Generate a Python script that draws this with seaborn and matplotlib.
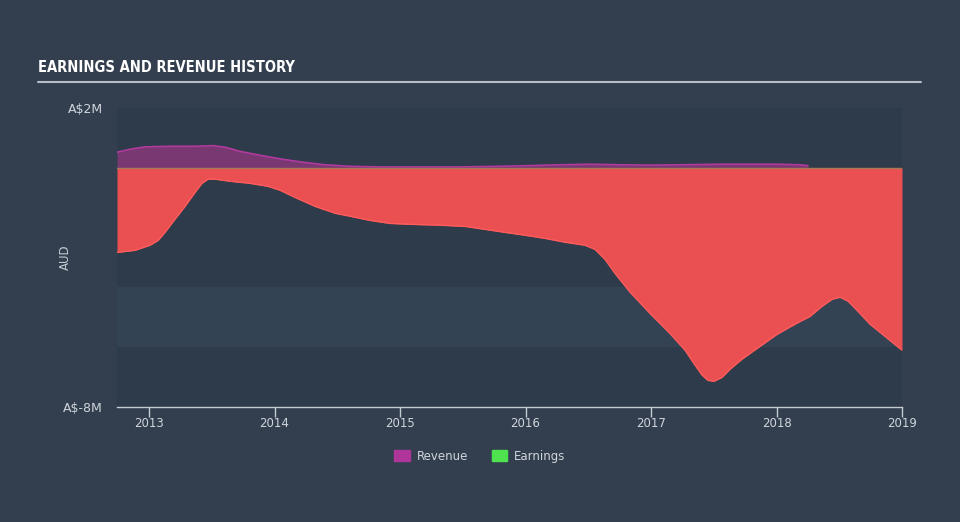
import numpy as np
import pandas as pd
import matplotlib.pyplot as plt
import matplotlib.patches as mpatches
import seaborn as sns

# values (decimal years, A$ millions)
earn_year = [2012.745, 2012.888, 2013.008, 2013.072, 2013.127, 2013.207, 2013.287, 2013.367,
             2013.422, 2013.470, 2013.526, 2013.645, 2013.805, 2013.948, 2014.044, 2014.163,
             2014.323, 2014.482, 2014.602, 2014.761, 2014.920, 2015.080, 2015.319, 2015.518,
             2015.677, 2015.837, 2016.004, 2016.155, 2016.315, 2016.474, 2016.554, 2016.633,
             2016.713, 2016.833, 2016.992, 2017.151, 2017.271, 2017.351, 2017.406, 2017.454,
             2017.502, 2017.566, 2017.629, 2017.725, 2017.869, 2018.004, 2018.147, 2018.267,
             2018.363, 2018.442, 2018.506, 2018.570, 2018.649, 2018.745, 2018.865, 2019.000]
earnings = [-2.83, -2.76, -2.59, -2.43, -2.16, -1.72, -1.29, -0.82,
            -0.52, -0.38, -0.38, -0.45, -0.52, -0.62, -0.75, -0.99,
            -1.29, -1.52, -1.62, -1.76, -1.86, -1.89, -1.92, -1.96,
            -2.06, -2.16, -2.26, -2.36, -2.49, -2.59, -2.73, -3.06,
            -3.53, -4.16, -4.87, -5.54, -6.10, -6.60, -6.93, -7.11,
            -7.14, -7.01, -6.74, -6.40, -5.97, -5.57, -5.23, -4.97,
            -4.63, -4.40, -4.33, -4.46, -4.80, -5.23, -5.64, -6.10]

rev_year = [2012.745, 2012.849, 2012.968, 2013.167, 2013.367, 2013.510, 2013.606, 2013.725,
            2013.884, 2014.044, 2014.203, 2014.402, 2014.602, 2014.841, 2015.159, 2015.478,
            2015.797, 2016.004, 2016.275, 2016.514, 2016.753, 2016.992, 2017.231, 2017.550,
            2018.004, 2018.187, 2018.251]
revenue = [0.52, 0.62, 0.70, 0.72, 0.72, 0.74, 0.69, 0.55,
           0.42, 0.30, 0.20, 0.10, 0.05, 0.03, 0.03, 0.03,
           0.05, 0.07, 0.10, 0.12, 0.10, 0.09, 0.10, 0.12,
           0.12, 0.10, 0.07]

year_ticks = [2013, 2014, 2015, 2016, 2017, 2018, 2019]
y_ticks = [2, -8]
y_tick_labels = ['A\\$2M', 'A\\$-8M']

df_earn = pd.DataFrame({'year': earn_year, 'value': earnings})
df_rev = pd.DataFrame({'year': rev_year, 'value': revenue})

sns.set_theme(style='dark')
plt.rcParams['font.family'] = ['DejaVu Sans']

fig = plt.figure(figsize=(9.6, 5.22), dpi=100, facecolor='#333f4f')
ax = fig.add_axes([117 / 960, 1 - 407 / 522, 785 / 960, 299 / 522])
ax.set_facecolor('#2e3b4a')
ax.axhspan(-6, -4, color='#344354', lw=0, zorder=0)

ax.fill_between(df_rev['year'], 0, df_rev['value'], color='#7a3872', lw=0, zorder=2)
sns.lineplot(data=df_rev, x='year', y='value', ax=ax, color='#b23a9e', lw=1.2, zorder=3)
ax.fill_between(df_earn['year'], 0, df_earn['value'], color='#ea4f51', lw=0, zorder=2)
sns.lineplot(data=df_earn, x='year', y='value', ax=ax, color='#ff5c5c', lw=1.0, zorder=3)
ax.axhline(0, color='#a57a55', lw=1, zorder=4)

ax.set_xlim(2012.745, 2019.0)
ax.set_ylim(-8, 2)
ax.set_xticks(year_ticks)
ax.set_xticklabels([str(y) for y in year_ticks])
ax.set_yticks(y_ticks)
ax.set_yticklabels(y_tick_labels)
ax.tick_params(axis='x', colors='#c5ccd4', labelcolor='#d0d5dc', labelsize=8.5,
               length=7, width=1, direction='out', pad=0.5, bottom=True)
ax.tick_params(axis='y', labelcolor='#d0d5dc', labelsize=9, length=0, pad=10)
ax.set_xlabel('')
ax.set_ylabel('AUD', color='#c5ccd4', fontsize=8.5, labelpad=-6)
ax.grid(False)
for s in ['top', 'left', 'right']:
    ax.spines[s].set_visible(False)
ax.spines['bottom'].set_color('#c5ccd4')
ax.spines['bottom'].set_linewidth(1)

fig.text(38 / 960, 1 - 68 / 522, 'EARNINGS AND REVENUE HISTORY', color='white',
         fontsize=10.5, fontweight='bold', fontstretch='condensed',
         family=['DejaVu Sans'], va='center', ha='left')
fig.add_artist(plt.Line2D([38 / 960, 921 / 960], [1 - 82 / 522, 1 - 82 / 522],
                          color='#b5bcc4', lw=1.5))

handles = [mpatches.Patch(color='#b0359a', label='Revenue'),
           mpatches.Patch(color='#4fe34f', label='Earnings')]
leg = fig.legend(handles=handles, loc='center', bbox_to_anchor=(0.5, 1 - 456 / 522), ncol=2,
                 frameon=False, fontsize=8.5, handlelength=1.3, handleheight=1.0,
                 columnspacing=2.0, handletextpad=0.6)
for t in leg.get_texts():
    t.set_color('#d0d5dc')

fig.savefig('out.png', dpi=100, facecolor=fig.get_facecolor())
